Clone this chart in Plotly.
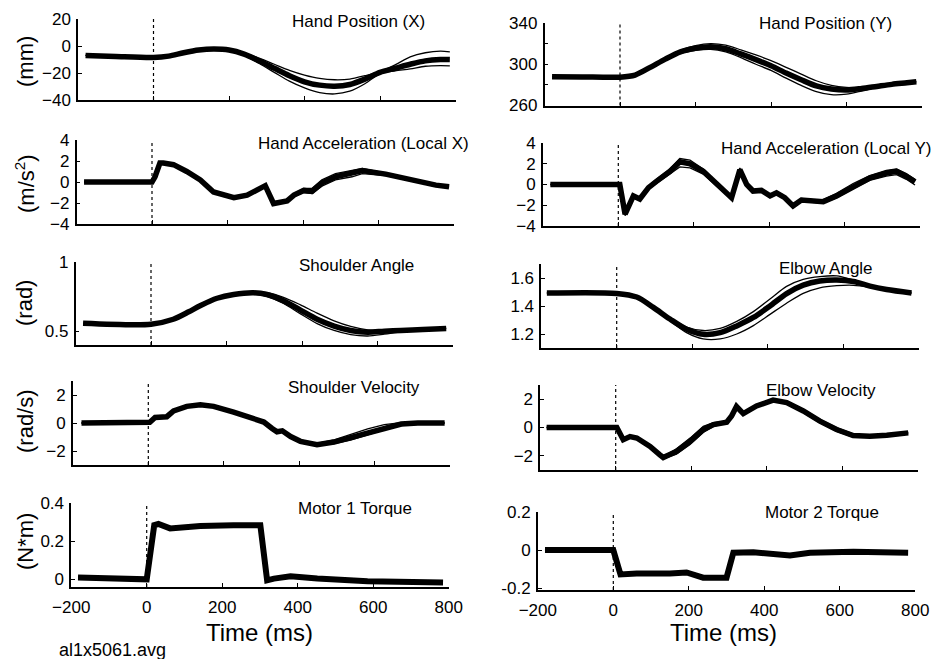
import plotly.graph_objects as go

# ---------------- DATA ----------------
# Hand Position X (mm)
hx_t = [-180, -100, 0, 40, 80, 120, 160, 200, 240, 280, 320, 360, 400, 440, 480, 520, 560, 600, 640, 680, 720, 760, 785]
hx_mean = [-7, -7.8, -8.5, -7.5, -5, -3, -2.3, -3, -6, -11, -16.5, -22, -26.5, -29, -29.8, -28.5, -24.5, -19.5, -16.5, -13.5, -11, -10, -10]
hx_hi = [-7, -7.8, -8.5, -7.5, -5, -2.8, -2, -2.5, -5, -9, -13.5, -18, -21.5, -24, -25, -24.5, -22, -19, -14, -8, -5, -3.8, -4.3]
hx_lo = [-7, -7.8, -8.5, -7.5, -5, -3.2, -2.6, -3.5, -7, -13, -19.5, -26, -31, -34.5, -35.5, -33.5, -28, -20.5, -18.5, -17, -15, -14.5, -14.7]

# Hand Position Y (mm)
hy_t = [-180, -100, 0, 40, 80, 120, 160, 200, 240, 280, 320, 360, 400, 440, 480, 520, 560, 600, 640, 680, 720, 760, 785]
hy_mean = [288, 287.7, 287.5, 289.5, 297, 305, 312, 315.5, 317, 315, 310, 304.5, 298.5, 291.5, 285, 279, 276, 275, 276.5, 278.5, 280.5, 282, 283]
hy_hi = [288, 287.7, 287.5, 289.5, 297.5, 306, 313.5, 318, 320, 318.5, 314, 309, 303.5, 297, 290.5, 284, 279.5, 277.5, 277.5, 279, 281, 282.5, 283.3]
hy_lo = [288, 287.7, 287.5, 289.5, 296.5, 304, 310.5, 313.5, 314.5, 312, 306.5, 300, 294, 286.5, 279.5, 273.5, 270.5, 271, 274, 277.5, 280, 281.5, 282.7]

# Hand Acceleration Local X (m/s^2)
ax_t = [-180, 0, 8, 21, 30, 57, 92, 128, 163, 199, 217, 252, 287, 300, 322, 358, 376, 402, 424, 450, 486, 530, 557, 619, 663, 707, 752, 787]
ax_mean = [0, 0, 0.5, 1.8, 1.8, 1.65, 1.0, 0.2, -0.95, -1.4, -1.5, -1.25, -0.6, -0.35, -2.05, -1.8, -1.25, -0.8, -0.9, -0.1, 0.5, 0.85, 1.1, 0.75, 0.4, 0.1, -0.3, -0.45]
ax_hi = [0, 0, 0.5, 1.85, 1.85, 1.7, 1.05, 0.25, -0.9, -1.35, -1.45, -1.2, -0.5, -0.25, -1.95, -1.7, -1.1, -0.6, -0.6, 0.2, 0.8, 1.1, 1.3, 0.85, 0.45, 0.15, -0.25, -0.4]
ax_lo = [0, 0, 0.5, 1.75, 1.75, 1.6, 0.95, 0.15, -1.0, -1.45, -1.55, -1.3, -0.7, -0.45, -2.1, -1.9, -1.4, -1.0, -1.1, -0.4, 0.2, 0.5, 0.8, 0.6, 0.3, 0.05, -0.35, -0.5]

# Hand Acceleration Local Y (m/s^2)
ay_t = [-180, 0, 4, 18, 40, 57, 80, 101, 137, 163, 190, 225, 260, 300, 322, 340, 357, 379, 402, 419, 441, 463, 485, 516, 543, 578, 622, 666, 710, 737, 763, 786]
ay_mean = [0, 0, 0, -2.86, -1.1, -1.4, -0.3, 0.3, 1.27, 2.2, 2.0, 1.27, 0, -1.27, 1.43, 0, -0.63, -0.57, -1.1, -0.8, -1.27, -2.06, -1.5, -1.6, -1.65, -1.1, -0.16, 0.63, 1.1, 1.27, 0.79, 0.25]
ay_hi = [0, 0, 0, -2.7, -1.0, -1.3, -0.15, 0.5, 1.5, 2.5, 2.35, 1.5, 0.15, -1.1, 1.6, 0.15, -0.5, -0.45, -0.95, -0.65, -1.1, -1.9, -1.35, -1.45, -1.45, -0.85, 0.1, 0.85, 1.35, 1.5, 1.05, 0.5]
ay_lo = [0, 0, 0, -3.0, -1.2, -1.5, -0.45, 0.1, 1.0, 1.7, 1.6, 1.0, -0.15, -1.4, 1.25, -0.15, -0.75, -0.7, -1.25, -0.95, -1.4, -2.15, -1.65, -1.75, -1.8, -1.3, -0.4, 0.4, 0.8, 0.95, 0.5, -0.05]

# Shoulder Angle (rad)
sa_t = [-180, 0, 59, 100, 130, 175, 219, 272, 307, 351, 396, 440, 485, 529, 574, 618, 662, 720, 782]
sa_mean = [0.557, 0.55, 0.586, 0.64, 0.684, 0.738, 0.765, 0.777, 0.765, 0.72, 0.652, 0.586, 0.537, 0.505, 0.493, 0.5, 0.505, 0.512, 0.52]
sa_hi = [0.557, 0.55, 0.586, 0.64, 0.686, 0.742, 0.772, 0.785, 0.778, 0.745, 0.69, 0.63, 0.575, 0.535, 0.51, 0.505, 0.507, 0.513, 0.522]
sa_lo = [0.557, 0.55, 0.586, 0.64, 0.682, 0.734, 0.758, 0.768, 0.752, 0.7, 0.625, 0.555, 0.505, 0.475, 0.465, 0.478, 0.495, 0.51, 0.518]

# Elbow Angle (rad)
ea_t = [-185, 0, 53, 97, 141, 185, 229, 274, 318, 362, 406, 450, 494, 538, 583, 627, 671, 715, 781]
ea_mean = [1.493, 1.49, 1.464, 1.39, 1.307, 1.234, 1.198, 1.21, 1.258, 1.318, 1.40, 1.489, 1.549, 1.578, 1.585, 1.575, 1.542, 1.518, 1.493]
ea_hi = [1.493, 1.49, 1.466, 1.395, 1.315, 1.25, 1.225, 1.24, 1.29, 1.36, 1.45, 1.54, 1.59, 1.61, 1.615, 1.585, 1.548, 1.52, 1.494]
ea_lo = [1.493, 1.49, 1.462, 1.385, 1.295, 1.21, 1.165, 1.165, 1.2, 1.26, 1.34, 1.42, 1.49, 1.53, 1.545, 1.548, 1.535, 1.515, 1.492]

# Shoulder Velocity (rad/s)
sv_t = [-177, 0, 4, 18, 40, 49, 67, 102, 138, 173, 226, 271, 306, 328, 341, 355, 377, 403, 447, 492, 536, 581, 625, 670, 714, 785]
sv_mean = [0, 0, 0.05, 0.39, 0.45, 0.45, 0.87, 1.19, 1.31, 1.19, 0.78, 0.34, 0.07, -0.39, -0.63, -0.56, -0.97, -1.31, -1.55, -1.36, -1.04, -0.65, -0.31, -0.07, 0, 0]
sv_hi = [0, 0, 0.05, 0.42, 0.48, 0.48, 0.9, 1.22, 1.34, 1.22, 0.81, 0.37, 0.1, -0.33, -0.55, -0.48, -0.88, -1.2, -1.45, -1.2, -0.82, -0.42, -0.12, 0.03, 0.05, 0.02]
sv_lo = [0, 0, 0.05, 0.36, 0.42, 0.42, 0.84, 1.16, 1.28, 1.16, 0.75, 0.31, 0.04, -0.45, -0.71, -0.64, -1.06, -1.42, -1.62, -1.48, -1.22, -0.85, -0.48, -0.18, -0.05, -0.02]

# Elbow Velocity (rad/s)
ev_t = [-183, 0, 3, 20, 38, 56, 91, 117, 126, 161, 197, 232, 259, 294, 307, 320, 338, 373, 417, 453, 497, 541, 585, 629, 673, 718, 775]
ev_mean = [0, 0, 0, -0.86, -0.64, -0.74, -1.33, -1.93, -2.12, -1.69, -0.98, -0.14, 0.21, 0.38, 0.81, 1.48, 0.98, 1.52, 1.93, 1.76, 1.17, 0.45, -0.14, -0.57, -0.62, -0.55, -0.38]
ev_hi = [0, 0, 0, -0.82, -0.6, -0.7, -1.28, -1.88, -2.05, -1.5, -0.75, 0.08, 0.35, 0.45, 0.88, 1.55, 1.08, 1.62, 2.0, 1.85, 1.28, 0.58, 0.0, -0.45, -0.55, -0.5, -0.35]
ev_lo = [0, 0, 0, -0.9, -0.68, -0.78, -1.38, -1.98, -2.2, -1.88, -1.2, -0.35, 0.08, 0.3, 0.74, 1.4, 0.88, 1.42, 1.85, 1.66, 1.05, 0.32, -0.28, -0.68, -0.7, -0.6, -0.41]

# Motor 1 Torque (N*m)
m1_t = [-182, -100, 0, 20, 31, 62, 142, 230, 301, 319, 337, 381, 452, 585, 785]
m1_mean = [0.01, 0.006, 0.0, 0.284, 0.29, 0.267, 0.279, 0.284, 0.284, -0.005, 0.004, 0.016, 0.004, -0.01, -0.017]

# Motor 2 Torque (N*m)
m2_t = [-181, 0, 19, 62, 150, 194, 238, 300, 318, 371, 468, 521, 636, 781]
m2_mean = [0, 0, -0.128, -0.123, -0.123, -0.118, -0.145, -0.145, -0.014, -0.012, -0.028, -0.014, -0.009, -0.014]

x_ticks = [-200, 0, 200, 400, 600, 800]
titles = ["Hand Position (X)", "Hand Position (Y)", "Hand Acceleration (Local X)", "Hand Acceleration (Local Y)",
          "Shoulder Angle", "Elbow Angle", "Shoulder Velocity", "Elbow Velocity", "Motor 1 Torque", "Motor 2 Torque"]
y_labels = ["(mm)", "(m/s<sup>2</sup>)", "(rad)", "(rad/s)", "(N*m)"]
x_label = "Time (ms)"
file_label = "al1x5061.avg"

# ---------------- LAYOUT HELPERS ----------------
W, H = 946, 659
OFF = 8  # page body margin in the browser
FONT = "Liberation Sans, Arial, sans-serif"


def px(x):
    return (x - OFF) / W


def py(y):
    return 1 - (y - OFF) / H


panels = [
    dict(t=hx_t, m=hx_mean, hi=hx_hi, lo=hx_lo, smooth=True, yr=[-40, 20], tv=[-40, -20, 0, 20], tt=None, minor=None, z=153.5, top=19, bot=100, tx=(358, 22)),
    dict(t=hy_t, m=hy_mean, hi=hy_hi, lo=hy_lo, smooth=True, yr=[260, 340], tv=[260, 300, 340], tt=None, minor=[280, 320], z=620, top=23, bot=105.5, tx=(825, 24)),
    dict(t=ax_t, m=ax_mean, hi=ax_hi, lo=ax_lo, smooth=False, yr=[-4, 4], tv=[-4, -2, 0, 2, 4], tt=None, minor=None, z=152, top=140, bot=224, tx=(363, 143)),
    dict(t=ay_t, m=ay_mean, hi=ay_hi, lo=ay_lo, smooth=False, yr=[-4, 4], tv=[-4, -2, 0, 2, 4], tt=None, minor=None, z=618.3, top=143, bot=226, tx=(826, 148)),
    dict(t=sa_t, m=sa_mean, hi=sa_hi, lo=sa_lo, smooth=True, yr=[0.4, 1.0], tv=[0.5, 1.0], tt=["0.5", "1"], minor=None, z=151, top=262, bot=345, tx=(356, 265)),
    dict(t=ea_t, m=ea_mean, hi=ea_hi, lo=ea_lo, smooth=True, yr=[1.1, 1.7], tv=[1.2, 1.4, 1.6], tt=None, minor=None, z=616.7, top=264, bot=348, tx=(826, 268)),
    dict(t=sv_t, m=sv_mean, hi=sv_hi, lo=sv_lo, smooth=False, yr=[-3, 3], tv=[-2, 0, 2], tt=None, minor=None, z=148.3, top=381, bot=465, tx=(354, 387)),
    dict(t=ev_t, m=ev_mean, hi=ev_hi, lo=ev_lo, smooth=False, yr=[-3, 3], tv=[-2, 0, 2], tt=None, minor=None, z=615.7, top=385, bot=470, tx=(821, 390)),
    dict(t=m1_t, m=m1_mean, hi=None, lo=None, smooth=False, yr=[-0.04, 0.4], tv=[0, 0.2, 0.4], tt=["0", "0.2", "0.4"], minor=None, z=146.7, top=503, bot=587, tx=(355, 508)),
    dict(t=m2_t, m=m2_mean, hi=None, lo=None, smooth=False, yr=[-0.21, 0.2], tv=[-0.2, 0, 0.2], tt=["-0.2", "0", "0.2"], minor=None, z=613.3, top=512, bot=590, tx=(822, 512)),
]

PX_PER_MS = 0.3775

fig = go.Figure()
layout = dict(
    template="none",
    width=W, height=H,
    margin=dict(l=0, r=0, t=0, b=0, pad=0),
    paper_bgcolor="white", plot_bgcolor="white",
    showlegend=False,
    font=dict(family=FONT, color="black"),
)
shapes = []
annotations = []

for i, p in enumerate(panels):
    k = i + 1
    xa = "x" if k == 1 else f"x{k}"
    ya = "y" if k == 1 else f"y{k}"
    shape = "spline" if p["smooth"] else "linear"
    if p["hi"] is not None:
        for arr in (p["hi"], p["lo"]):
            fig.add_trace(go.Scatter(x=p["t"], y=arr, mode="lines", xaxis=xa, yaxis=ya,
                                     line=dict(color="black", width=1.3, shape=shape, smoothing=0.8),
                                     hoverinfo="skip"))
        fig.add_trace(go.Scatter(x=p["t"], y=p["m"], mode="lines", xaxis=xa, yaxis=ya,
                                 line=dict(color="black", width=5.5, shape=shape, smoothing=0.8),
                                 hoverinfo="skip"))
    else:
        fig.add_trace(go.Scatter(x=p["t"], y=p["m"], mode="lines", xaxis=xa, yaxis=ya,
                                 line=dict(color="black", width=6), hoverinfo="skip"))
    left = p["z"] - 200 * PX_PER_MS
    right = p["z"] + 800 * PX_PER_MS
    bottom_row = i >= 8
    xkey = "xaxis" if k == 1 else f"xaxis{k}"
    ykey = "yaxis" if k == 1 else f"yaxis{k}"
    layout[xkey] = dict(
        domain=[px(left), px(right)], anchor=ya, range=[-200, 800], automargin=False,
        tickmode="array", tickvals=x_ticks, ticks="inside", ticklen=4, tickwidth=1, tickcolor="black",
        showline=True, linecolor="black", linewidth=1.5,
        showgrid=False, zeroline=False, showticklabels=bottom_row,
        tickfont=dict(size=17, family=FONT, color="black"),
        ticklabelstandoff=4,
    )
    ydict = dict(
        domain=[py(p["bot"]), py(p["top"])], anchor=xa, range=p["yr"], automargin=False,
        tickmode="array", tickvals=p["tv"], ticks="inside", ticklen=4, tickwidth=1, tickcolor="black",
        showline=True, linecolor="black", linewidth=1.5,
        showgrid=False, zeroline=False,
        tickfont=dict(size=17, family=FONT, color="black"),
        ticklabelstandoff=2,
    )
    if p["tt"] is not None:
        ydict["ticktext"] = p["tt"]
    if p["minor"] is not None:
        ydict["minor"] = dict(tickmode="array", tickvals=p["minor"], ticks="inside", ticklen=4,
                              tickcolor="black", tickwidth=1, showgrid=False)
    layout[ykey] = ydict
    shapes.append(dict(type="line", xref=xa, yref=f"{ya} domain", x0=0, x1=0, y0=0, y1=1,
                       line=dict(color="black", width=1.2, dash="dot")))
    annotations.append(dict(text=titles[i], x=px(p["tx"][0]), y=py(p["tx"][1]), xref="paper", yref="paper",
                            xanchor="center", yanchor="middle", showarrow=False,
                            font=dict(size=17, family=FONT, color="black")))

ylab_pos = [62, 184, 303, 421, 542]
for lab, yy in zip(y_labels, ylab_pos):
    annotations.append(dict(text=lab, x=px(25), y=py(yy), xref="paper", yref="paper", textangle=-90,
                            xanchor="center", yanchor="middle", showarrow=False,
                            font=dict(size=22, family=FONT, color="black")))

for xx in (259, 723):
    annotations.append(dict(text=x_label, x=px(xx), y=py(632), xref="paper", yref="paper",
                            xanchor="center", yanchor="middle", showarrow=False,
                            font=dict(size=24, family=FONT, color="black")))

annotations.append(dict(text=file_label, x=px(57), y=py(650), xref="paper", yref="paper",
                        xanchor="left", yanchor="middle", showarrow=False,
                        font=dict(size=18, family=FONT, color="black")))

layout["shapes"] = shapes
layout["annotations"] = annotations
fig.update_layout(**layout)
fig.write_html("out.html")
